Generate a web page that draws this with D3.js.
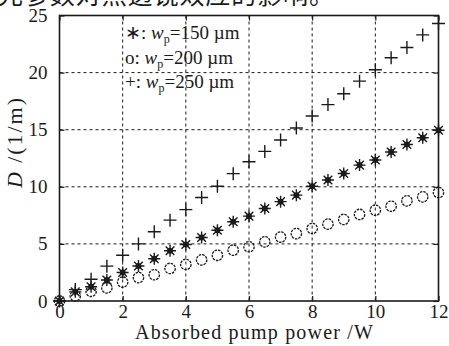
<!DOCTYPE html>
<html><head><meta charset="utf-8">
<script src="https://cdn.jsdelivr.net/npm/d3@7"></script>
<style>body{margin:0;background:#fff}svg{display:block}</style>
</head><body>
<script>
const xValues = [0,0.5,1,1.5,2,2.5,3,3.5,4,4.5,5,5.5,6,6.5,7,7.5,8,8.5,9,9.5,10,10.5,11,11.5,12];
const star150 = [0,0.8,1.25,1.84,2.5,3.06,3.7,4.4,4.95,5.56,6.2,6.94,7.43,8.1,8.7,9.27,10.05,10.6,11.16,11.9,12.35,13.05,13.7,14.3,14.95];
const circle200 = [0,0.45,0.85,1.15,1.65,2.05,2.3,2.85,3.2,3.6,4.0,4.45,4.75,5.18,5.6,5.9,6.35,6.73,7.14,7.58,7.95,8.3,8.77,9.12,9.5];
const plus250 = [0,1.0,1.9,3.05,4.0,5.0,6.06,7.08,8.0,9.06,10.05,11.15,12.2,13.1,14.1,15.15,16.2,17.2,18.15,19.25,20.25,21.3,22.2,23.3,24.3];
const xTicks = [0,2,4,6,8,10,12];
const yTicks = [0,5,10,15,20,25];
const legendItems = [["∗:", "150"],["o:", "200"],["+:", "250"]];
const caption = "光参数对热透镜效应的影响。";

const W = 449, H = 346;
const L = 59.5, R = 438.5, T = 15.5, B = 301;
const ink = "#1a1a1a";
const fontSerif = "'Liberation Serif', 'Times New Roman', serif";
const svg = d3.select("body").append("svg").attr("width", W).attr("height", H);
const x = d3.scaleLinear().domain([0,12]).range([L,R]);
const y = d3.scaleLinear().domain([0,25]).range([B,T]);

// caption (cut off at top, as in the reference)
svg.append("text").attr("x", -2).attr("y", 4).attr("font-family","Noto Sans CJK SC")
  .attr("font-size", 25).attr("fill", ink).attr("textLength", 336).text(caption);

// grid
const g = svg.append("g");
g.selectAll("line.gx").data(xTicks.slice(1,-1)).join("line")
  .attr("x1", d=>x(d)).attr("x2", d=>x(d)).attr("y1", T).attr("y2", B)
  .attr("stroke", ink).attr("stroke-width", 1).attr("stroke-dasharray","3,3");
g.selectAll("line.gy").data(yTicks.slice(1,-1)).join("line")
  .attr("y1", d=>y(d)).attr("y2", d=>y(d)).attr("x1", L).attr("x2", R)
  .attr("stroke", ink).attr("stroke-width", 1).attr("stroke-dasharray","3,3");

// axes
const xAxis = svg.append("g").attr("transform", `translate(0,${B})`)
  .call(d3.axisBottom(x).tickValues(xTicks).tickSize(-5).tickPadding(7).tickFormat(d3.format("d")));
const xTop = svg.append("g").attr("transform", `translate(0,${T})`)
  .call(d3.axisTop(x).tickValues(xTicks).tickSize(-5).tickFormat(""));
const yAxis = svg.append("g").attr("transform", `translate(${L},0)`)
  .call(d3.axisLeft(y).tickValues(yTicks).tickSize(-5).tickPadding(12).tickFormat(d3.format("d")));
const yRight = svg.append("g").attr("transform", `translate(${R},0)`)
  .call(d3.axisRight(y).tickValues(yTicks).tickSize(-5).tickFormat(""));
[xAxis,xTop,yAxis,yRight].forEach(a=>{
  a.attr("font-family", fontSerif);
  a.select(".domain").remove();
  a.selectAll("line").attr("stroke", ink).attr("stroke-width", 1.2);
  a.selectAll("text").attr("font-family", fontSerif).attr("font-size", 19).attr("fill", ink);
});
xAxis.selectAll("text").attr("dy", "0.5em");
svg.append("rect").attr("x", L).attr("y", T).attr("width", R-L).attr("height", B-T)
  .attr("fill","none").attr("stroke", ink).attr("stroke-width", 1.6);

// axis labels
svg.append("text").attr("x", (135+373)/2).attr("y", 339).attr("text-anchor","middle")
  .attr("font-family", fontSerif).attr("font-size", 20).attr("fill", ink)
  .attr("textLength", 238).text("Absorbed pump power /W");
const yl = svg.append("text").attr("transform", "translate(22,143) rotate(-90)")
  .attr("text-anchor","middle").attr("font-family", fontSerif).attr("font-size", 22).attr("fill", ink)
  .attr("textLength", 90);
yl.append("tspan").attr("font-style","italic").text("D");
yl.append("tspan").text(" /(1/m)");

// legend
const leg = svg.append("g").attr("font-family", fontSerif).attr("font-size", 19).attr("fill", ink);
legendItems.forEach((it,i)=>{
  const t = leg.append("text").attr("x", 125).attr("y", 39 + i*24.5);
  t.append("tspan").text(it[0] + " ");
  t.append("tspan").attr("font-style","italic").text("w");
  t.append("tspan").attr("font-size", 12).attr("dy", 4).text("p");
  t.append("tspan").attr("dy", -4).text("=" + it[1] + " µm");
});

// markers
const toPts = arr => xValues.map((v,i)=>[v, arr[i]]);
const mk = svg.append("g").attr("stroke", ink).attr("fill","none");
mk.selectAll("circle.c").data(toPts(circle200)).join("circle")
  .attr("cx", d=>x(d[0])).attr("cy", d=>y(d[1])).attr("r", 5.2)
  .attr("stroke-width", 1.3).attr("stroke-dasharray", "2.5,1");
const plusPath = "M-6.5,0H6.5M0,-6.5V6.5";
mk.selectAll("path.p").data(toPts(plus250)).join("path")
  .attr("transform", d=>`translate(${x(d[0])},${y(d[1])})`).attr("d", plusPath)
  .attr("stroke-width", 1.4);
const starPath = "M-6,0H6M0,-6V6M-4.3,-4.3L4.3,4.3M-4.3,4.3L4.3,-4.3";
const st = mk.selectAll("g.s").data(toPts(star150)).join("g")
  .attr("transform", d=>`translate(${x(d[0])},${y(d[1])})`);
st.append("path").attr("d", starPath).attr("stroke-width", 1.4);
st.append("circle").attr("r", 3).attr("fill", ink).attr("stroke","none");
</script>
</body></html>
